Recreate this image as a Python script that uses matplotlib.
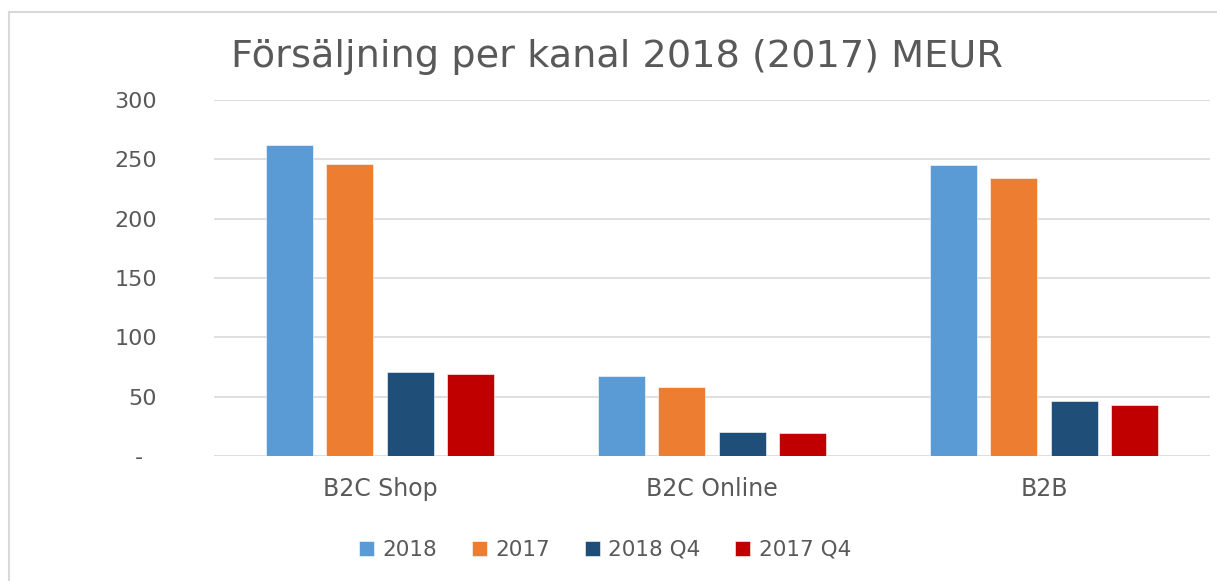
import matplotlib
matplotlib.use("Agg")
import matplotlib.pyplot as plt
import numpy as np
from matplotlib.lines import Line2D

plt.rcParams['font.family'] = ['DejaVu Sans']

categories = ["B2C Shop", "B2C Online", "B2B"]
series_names = ["2018", "2017", "2018 Q4", "2017 Q4"]
values_2018 = [262, 67, 245]
values_2017 = [246, 58, 234]
values_2018_q4 = [71, 20.5, 46]
values_2017_q4 = [69, 19, 43]
colors = ["#5B9BD5", "#ED7D31", "#1F4E79", "#C00000"]
yticks = [0, 50, 100, 150, 200, 250, 300]
ytick_labels = ["-  ", "50", "100", "150", "200", "250", "300"]
title = "Försäljning per kanal 2018 (2017) MEUR"

W, H = 1217, 581
fig = plt.figure(figsize=(W / 100, H / 100), dpi=100)
fig.patch.set_facecolor("white")

ax = fig.add_axes([214 / W, 1 - 456 / H, (1210 - 214) / W, (456 - 100) / H])
x = np.arange(len(categories))
pitch = 0.182
width = 0.142
all_vals = [values_2018, values_2017, values_2018_q4, values_2017_q4]
for i, (vals, name, c) in enumerate(zip(all_vals, series_names, colors)):
    ax.bar(x + (i - 1.5) * pitch, vals, width, color=c, label=name,
           edgecolor="white", linewidth=0.4, zorder=3)

ax.set_xlim(-0.5, 2.5)
ax.set_ylim(0, 300)
ax.set_yticks(yticks)
ax.set_yticklabels(ytick_labels)
ax.set_xticks(x)
ax.set_xticklabels(categories)
ax.grid(axis="y", color="#D9D9D9", linewidth=1.2, zorder=0)
for s in ax.spines.values():
    s.set_visible(False)
ax.tick_params(axis="both", length=0, colors="#595959")
ax.tick_params(axis="y", pad=41, labelsize=16)
ax.tick_params(axis="x", pad=15, labelsize=17)

fig.text(617 / W, 1 - 57 / H, title, ha="center", va="center",
         fontsize=27.5, color="#595959")

leg = fig.legend(loc="center", bbox_to_anchor=(605 / W, 1 - 550 / H), ncol=4,
                 frameon=False, fontsize=15.5, handlelength=0.7, handleheight=0.7,
                 handletextpad=0.4, columnspacing=1.6)
for t in leg.get_texts():
    t.set_color("#595959")

# outer frame (left and top)
fig.add_artist(Line2D([9 / W, 9 / W], [0, 1 - 12 / H], transform=fig.transFigure,
                      color="#D9D9D9", linewidth=1.5))
fig.add_artist(Line2D([9 / W, 1], [1 - 12 / H, 1 - 12 / H], transform=fig.transFigure,
                      color="#D9D9D9", linewidth=1.5))

fig.savefig("out.png", dpi=100, facecolor="white")
